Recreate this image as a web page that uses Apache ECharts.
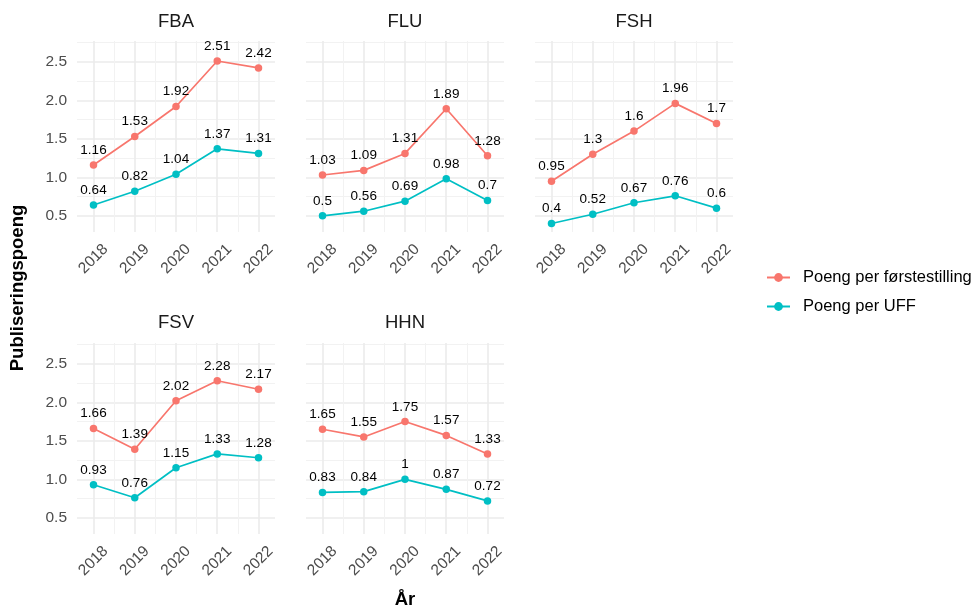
<!DOCTYPE html>
<html>
<head>
<meta charset="utf-8">
<script src="https://cdn.jsdelivr.net/npm/echarts@6/dist/echarts.min.js"></script>
<style>
html,body{margin:0;padding:0;background:#fff;}
#chart{width:976px;height:610px;}
</style>
</head>
<body>
<div id="chart"></div>
<script>
const years = [2018, 2019, 2020, 2021, 2022];
const panels = ['FBA', 'FLU', 'FSH', 'FSV', 'HHN'];
const seriesNames = ['Poeng per førstestilling', 'Poeng per UFF'];
const forstestilling = {
  FBA: [1.16, 1.53, 1.92, 2.51, 2.42],
  FLU: [1.03, 1.09, 1.31, 1.89, 1.28],
  FSH: [0.95, 1.3, 1.6, 1.96, 1.7],
  FSV: [1.66, 1.39, 2.02, 2.28, 2.17],
  HHN: [1.65, 1.55, 1.75, 1.57, 1.33]
};
const uff = {
  FBA: [0.64, 0.82, 1.04, 1.37, 1.31],
  FLU: [0.5, 0.56, 0.69, 0.98, 0.7],
  FSH: [0.4, 0.52, 0.67, 0.76, 0.6],
  FSV: [0.93, 0.76, 1.15, 1.33, 1.28],
  HHN: [0.83, 0.84, 1, 0.87, 0.72]
};
const yTicks = [0.5, 1.0, 1.5, 2.0, 2.5];
const xTitle = 'År';
const yTitle = 'Publiseringspoeng';

const colors = ['#F8766D', '#00BFC4'];
const FONT = '"Liberation Sans", Arial, sans-serif';
const NONE = 'rgba(0,0,0,0)';
const MAJ = '#EBEBEB';
const MIN = '#F2F2F2';

const colLefts = [77, 306, 535];
const rowTops = [41, 343];
const W = 198, H = 191;
const XMIN = 2017.6, XMAX = 2022.4, YMIN = 0.29, YMAX = 2.77;

const grids = [], xAxes = [], yAxes = [], series = [], graphics = [];

panels.forEach((p, i) => {
  const col = i % 3, row = Math.floor(i / 3);
  grids.push({left: colLefts[col], top: rowTops[row], width: W, height: H, containLabel: false});
  xAxes.push({
    type: 'value', gridIndex: i, min: XMIN, max: XMAX, minInterval: 1, maxInterval: 1,
    axisLine: {show: false}, axisTick: {show: false},
    splitLine: {show: true, lineStyle: {color: [NONE, MAJ, MAJ, MAJ, MAJ, MAJ, NONE], width: 1.6}},
    axisLabel: {
      show: true, rotate: 45, align: 'center', verticalAlign: 'middle', margin: 27,
      fontSize: 15.5, color: '#4D4D4D', fontFamily: FONT,
      formatter: v => (Math.abs(v - Math.round(v)) < 1e-6 && years.includes(Math.round(v))) ? String(Math.round(v)) : ''
    }
  });
  xAxes.push({
    type: 'value', gridIndex: i, min: XMIN, max: XMAX, minInterval: 0.5, maxInterval: 0.5,
    axisLine: {show: false}, axisTick: {show: false}, axisLabel: {show: false},
    splitLine: {show: true, lineStyle: {color: [NONE, NONE, MIN, NONE, MIN, NONE, MIN, NONE, MIN, NONE, NONE], width: 1}}
  });
  yAxes.push({
    type: 'value', gridIndex: i, min: YMIN, max: YMAX, minInterval: 0.5, maxInterval: 0.5,
    axisLine: {show: false}, axisTick: {show: false},
    splitLine: {show: true, lineStyle: {color: [NONE, MAJ, MAJ, MAJ, MAJ, MAJ, NONE], width: 1.6}},
    axisLabel: {
      show: col === 0, margin: 10, fontSize: 15.5, color: '#4D4D4D', fontFamily: FONT,
      formatter: v => {
        const t = yTicks.find(k => Math.abs(k - v) < 1e-6);
        return t !== undefined ? t.toFixed(1) : '';
      }
    }
  });
  yAxes.push({
    type: 'value', gridIndex: i, min: YMIN, max: YMAX, minInterval: 0.25, maxInterval: 0.25,
    axisLine: {show: false}, axisTick: {show: false}, axisLabel: {show: false},
    splitLine: {show: true, lineStyle: {color: [NONE, NONE, MIN, NONE, MIN, NONE, MIN, NONE, MIN, NONE, MIN, NONE], width: 1}}
  });

  [forstestilling, uff].forEach((src, s) => {
    series.push({
      name: seriesNames[s], type: 'line', xAxisIndex: 2 * i, yAxisIndex: 2 * i,
      data: years.map((y, k) => [y, src[p][k]]),
      symbol: 'circle', symbolSize: 7.5,
      lineStyle: {color: colors[s], width: 1.7},
      itemStyle: {color: colors[s]},
      label: {show: true, position: 'top', distance: 4, fontSize: 13.5, color: '#000', fontFamily: FONT,
        formatter: d => String(d.value[1])},
      emphasis: {disabled: true}, z: 3 + s
    });
  });

  graphics.push({
    type: 'text', x: colLefts[col] + W / 2, y: row === 0 ? 22 : 323,
    style: {text: p, textAlign: 'center', textVerticalAlign: 'middle', fontSize: 18.5, fill: '#1A1A1A', fontFamily: FONT}
  });
});

graphics.push({
  type: 'text', x: 405, y: 600,
  style: {text: xTitle, textAlign: 'center', textVerticalAlign: 'middle', fontSize: 18.5, fontWeight: 'bold', fill: '#000', fontFamily: FONT}
});
graphics.push({
  type: 'text', x: 18, y: 288, rotation: Math.PI / 2,
  style: {text: yTitle, textAlign: 'center', textVerticalAlign: 'middle', fontSize: 18.5, fontWeight: 'bold', fill: '#000', fontFamily: FONT}
});

const chart = echarts.init(document.getElementById('chart'), null, {renderer: 'canvas'});
chart.setOption({
  animation: false,
  backgroundColor: '#fff',
  grid: grids,
  xAxis: xAxes,
  yAxis: yAxes,
  series: series,
  legend: {
    data: seriesNames, orient: 'vertical', left: 766, top: 269, padding: 0,
    itemWidth: 23, itemHeight: 11, itemGap: 12,
    textStyle: {fontSize: 16.5, color: '#000', fontFamily: FONT, padding: [0, 0, 0, 8]}
  },
  graphic: graphics
});
</script>
</body>
</html>
